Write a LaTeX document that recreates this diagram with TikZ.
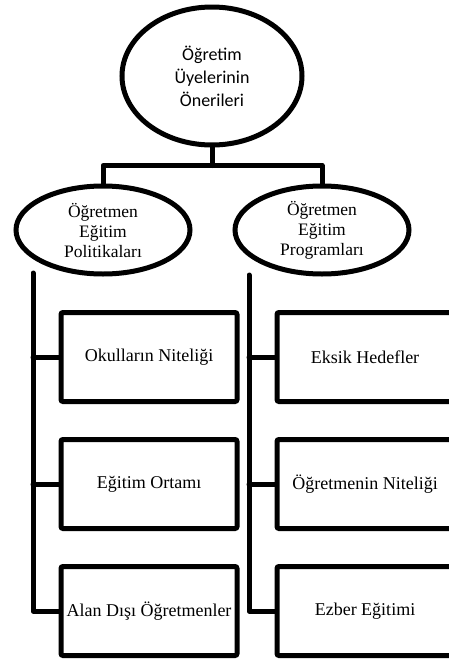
\documentclass[tikz,border=0pt]{standalone}
\usepackage{fontspec}
\setmainfont{Liberation Serif}
\newfontfamily\calibrifont{Carlito}
\usetikzlibrary{shapes.geometric, positioning}
\tikzset{
    root_node/.style={
        ellipse,
        draw=black,
        line width=5pt,
        minimum width=180pt,
        minimum height=138pt,
        align=center,
        font=\calibrifont\fontsize{18}{23}\selectfont
    },
    topic_node/.style={
        ellipse,
        draw=black,
        line width=5pt,
        minimum width=174pt,
        minimum height=88pt,
        inner sep=0pt,
        align=center,
        font=\fontsize{17.5}{20}\selectfont
    },
    item_box/.style={
        rectangle,
        rounded corners=2pt,
        draw=black,
        line width=5pt,
        minimum width=176pt,
        minimum height=89pt,
        inner sep=0pt,
        font=\fontsize{18}{20}\selectfont
    },
    tree_edge/.style={
        draw=black,
        line width=5pt,
        line cap=round,
        line join=round
    }
}
\begin{document}
\begin{tikzpicture}[x=1pt, y=-1pt]
    \clip (0,0) rectangle (449,662);

    \node[root_node] (oneriler) at (212,76) {Öğretim\\Üyelerinin\\Önerileri};

    \node[topic_node] (politika) at (103,230) {Öğretmen\\Eğitim\\Politikaları};
    \node[topic_node] (program) at (322,230) {Öğretmen\\Eğitim\\Programları};

    \node[item_box] (okul) at (149,357) {Okulların Niteliği};
    \node[item_box] (ortam) at (149,484) {Eğitim Ortamı};
    \node[item_box] (alandisi) at (149,611) {Alan Dışı Öğretmenler};

    \node[item_box] (hedef) at (365,357) {Eksik Hedefler};
    \node[item_box] (nitelik) at (365,484) {Öğretmenin Niteliği};
    \node[item_box] (ezber) at (365,611) {Ezber Eğitimi};

    % top split
    \draw[tree_edge] (oneriler.south) -- ++(0,18) coordinate (split);
    \draw[tree_edge] (politika.north) |- (split) -| (program.north);

    % left column
    \coordinate (leftbar) at (33,273);
    \draw[tree_edge] (leftbar) |- (alandisi.west);
    \draw[tree_edge] (leftbar |- okul.west) -- (okul.west);
    \draw[tree_edge] (leftbar |- ortam.west) -- (ortam.west);

    % right column
    \coordinate (rightbar) at (249,275);
    \draw[tree_edge] (rightbar) |- (ezber.west);
    \draw[tree_edge] (rightbar |- hedef.west) -- (hedef.west);
    \draw[tree_edge] (rightbar |- nitelik.west) -- (nitelik.west);
\end{tikzpicture}
\end{document}
